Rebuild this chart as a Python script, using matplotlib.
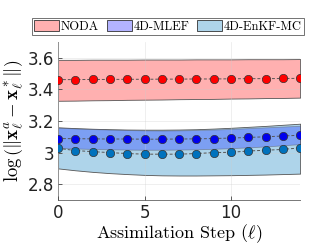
import numpy as np
import matplotlib
matplotlib.use("Agg")
import matplotlib.pyplot as plt
from matplotlib.patches import Patch

plt.rcParams['mathtext.fontset'] = 'cm'

# assimilation steps
steps = np.arange(0, 15)

# NODA
noda_mean = [3.462, 3.462, 3.463, 3.463, 3.464, 3.464, 3.465, 3.465, 3.466, 3.466,
             3.467, 3.468, 3.468, 3.469, 3.470]
noda_upper = [3.587, 3.587, 3.588, 3.588, 3.588, 3.589, 3.589, 3.589, 3.590, 3.590,
              3.590, 3.591, 3.591, 3.591, 3.592]
noda_lower = [3.328, 3.329, 3.331, 3.332, 3.334, 3.335, 3.336, 3.338, 3.339, 3.340,
              3.342, 3.343, 3.345, 3.346, 3.348]

# 4D-MLEF
mlef_mean = [3.089, 3.088, 3.087, 3.086, 3.086, 3.085, 3.085, 3.086, 3.087, 3.089,
             3.092, 3.096, 3.100, 3.105, 3.110]
mlef_upper = [3.158, 3.153, 3.149, 3.146, 3.143, 3.141, 3.140, 3.141, 3.143, 3.146,
              3.150, 3.155, 3.160, 3.165, 3.170]
mlef_lower = [3.030, 3.026, 3.023, 3.021, 3.019, 3.018, 3.018, 3.019, 3.021, 3.024,
              3.028, 3.033, 3.039, 3.046, 3.054]

# 4D-EnKF-MC
enkf_mean = [3.027, 3.013, 3.006, 3.000, 2.994, 2.990, 2.990, 2.990, 2.994, 3.000,
             3.002, 3.010, 3.015, 3.020, 3.030]
enkf_upper = [3.160, 3.155, 3.151, 3.148, 3.146, 3.145, 3.145, 3.146, 3.148, 3.152,
              3.157, 3.163, 3.169, 3.176, 3.183]
enkf_lower = [2.900, 2.888, 2.878, 2.870, 2.864, 2.859, 2.856, 2.855, 2.855, 2.856,
              2.857, 2.859, 2.861, 2.864, 2.867]

labels = ['NODA', '4D-MLEF', '4D-EnKF-MC']
fill_colors = ['#ffb0b0', '#3f5fff', '#aed4ea']
dot_colors = ['#ff0000', '#0000ee', '#0072bd']

fig = plt.figure(figsize=(3.32, 2.5), dpi=100)
ax = fig.add_axes([0.175, 0.2, 0.729, 0.632])

edge = '#555555'
ax.fill_between(steps, noda_lower, noda_upper, facecolor=fill_colors[0],
                edgecolor=edge, linewidth=0.6, zorder=1)
ax.fill_between(steps, enkf_lower, enkf_upper, facecolor=fill_colors[2],
                edgecolor=edge, linewidth=0.6, zorder=1)
ax.fill_between(steps, mlef_lower, mlef_upper, facecolor=fill_colors[1], alpha=0.45,
                edgecolor=edge, linewidth=0.6, zorder=2)

for mean, c in zip([noda_mean, mlef_mean, enkf_mean], dot_colors):
    ax.plot(steps, mean, linestyle=(0, (3, 2)), color='#555555', linewidth=0.7,
            marker='o', markersize=6, markerfacecolor=c, markeredgecolor='#333333',
            markeredgewidth=0.5, zorder=4)

ax.set_xlim(0, 14)
ax.set_ylim(2.7, 3.7)
ax.set_xticks([0, 5, 10])
ax.set_yticks([2.8, 3.0, 3.2, 3.4, 3.6])
ax.set_yticklabels(['2.8', '3', '3.2', '3.4', '3.6'])
ax.tick_params(direction='in', length=3, width=0.6, labelsize=12, color='#444444',
               labelcolor='#222222', pad=3)
ax.grid(True, color='#cccccc', linewidth=0.5, alpha=0.45, zorder=3)
ax.set_axisbelow(False)
for s in ['top', 'right']:
    ax.spines[s].set_visible(False)
for s in ['left', 'bottom']:
    ax.spines[s].set_color('#777777')
    ax.spines[s].set_linewidth(0.7)

ax.set_xlabel(r'Assimilation Step $(\ell)$', fontsize=13, family='cmr10', labelpad=0)
ax.set_ylabel(r'$\log\left(\|\mathbf{x}^a_\ell - \mathbf{x}^*_\ell\|\right)$',
              fontsize=13.5, labelpad=1)

handles = [Patch(facecolor=fill_colors[0], edgecolor='#333333', linewidth=0.6),
           Patch(facecolor='#b3b3ff', edgecolor='#333333', linewidth=0.6),
           Patch(facecolor=fill_colors[2], edgecolor='#333333', linewidth=0.6)]
leg = fig.legend(handles, labels, loc='center', bbox_to_anchor=(0.506, 0.894), ncol=3,
                 prop={'family': 'cmr10', 'size': 9}, frameon=True, fancybox=False,
                 edgecolor='#333333', handlelength=2.0, handleheight=0.9,
                 handletextpad=0.15, columnspacing=0.6, borderpad=0.2,
                 borderaxespad=0)
leg.get_frame().set_linewidth(0.6)

fig.savefig('out.png', dpi=100)
